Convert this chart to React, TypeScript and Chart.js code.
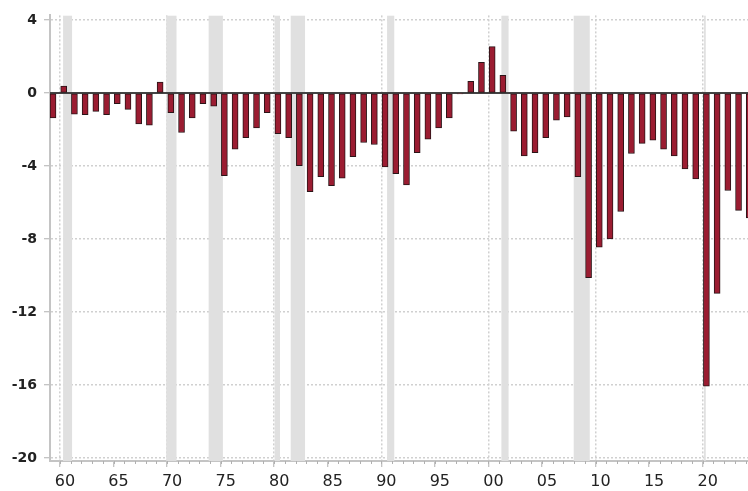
import React, { useEffect, useRef } from "react";
import { Chart, registerables } from "chart.js";

Chart.register(...registerables);

// Fiscal years shown as bars
const years: number[] = [
  1959, 1960, 1961, 1962, 1963, 1964, 1965, 1966, 1967, 1968, 1969,
  1970, 1971, 1972, 1973, 1974, 1975, 1976, 1977, 1978, 1979,
  1980, 1981, 1982, 1983, 1984, 1985, 1986, 1987, 1988, 1989,
  1990, 1991, 1992, 1993, 1994, 1995, 1996, 1997, 1998, 1999,
  2000, 2001, 2002, 2003, 2004, 2005, 2006, 2007, 2008, 2009,
  2010, 2011, 2012, 2013, 2014, 2015, 2016, 2017, 2018, 2019,
  2020, 2021, 2022, 2023, 2024,
];

// Surplus (+) / deficit (-) as % of GDP
const balance: number[] = [
  -1.36, 0.38, -1.15, -1.18, -1.0, -1.18, -0.58, -0.89, -1.69, -1.76, 0.6,
  -1.07, -2.16, -1.36, -0.58, -0.71, -4.53, -3.07, -2.45, -1.91, -1.07,
  -2.22, -2.45, -3.98, -5.4, -4.58, -5.07, -4.67, -3.49, -2.71, -2.82,
  -4.05, -4.42, -5.03, -3.26, -2.52, -1.91, -1.36, -0.05, 0.65, 1.69,
  2.55, 0.97, -2.09, -3.44, -3.26, -2.45, -1.49, -1.31, -4.58, -10.12,
  -8.44, -8.0, -6.49, -3.31, -2.76, -2.58, -3.07, -3.44, -4.16, -4.71,
  -16.07, -10.98, -5.34, -6.43, -6.85,
];

// Recession periods (decimal years)
const recessionStart: number[] = [1960.29, 1969.92, 1973.88, 1980.04, 1981.54, 1990.54, 2001.21, 2007.96, 2020.13];
const recessionEnd: number[] = [1961.13, 1970.88, 1975.21, 1980.54, 1982.88, 1991.21, 2001.88, 2009.46, 2020.29];

// Axis ticks
const xMajorTicks: number[] = [1960, 1965, 1970, 1975, 1980, 1985, 1990, 1995, 2000, 2005, 2010, 2015, 2020];
const yTicks: number[] = [-20, -16, -12, -8, -4, 0, 4];

const BAR_POS = 0.35; // bars sit within their year

const decorPlugin = {
  id: "decor",
  beforeDatasetsDraw(chart: any) {
    const { ctx, chartArea, scales } = chart;
    const x = scales.x;
    const y = scales.y;
    ctx.save();
    ctx.beginPath();
    ctx.rect(chartArea.left, chartArea.top, chartArea.right - chartArea.left, chartArea.bottom - chartArea.top);
    ctx.clip();
    ctx.fillStyle = "#e0e0e0";
    for (let i = 0; i < recessionStart.length; i++) {
      const x0 = x.getPixelForValue(recessionStart[i]);
      const x1 = x.getPixelForValue(recessionEnd[i]);
      ctx.fillRect(x0, chartArea.top, x1 - x0, chartArea.bottom - chartArea.top);
    }
    const y0 = y.getPixelForValue(0);
    ctx.strokeStyle = "#444";
    ctx.lineWidth = 2;
    ctx.beginPath();
    ctx.moveTo(chartArea.left, y0);
    ctx.lineTo(chartArea.right, y0);
    ctx.stroke();
    ctx.restore();
  },
  afterDraw(chart: any) {
    const { ctx, chartArea, scales } = chart;
    const x = scales.x;
    ctx.save();
    ctx.strokeStyle = "#b0b0b0";
    ctx.lineWidth = 1;
    for (const yr of years) {
      const px = x.getPixelForValue(yr);
      if (px < chartArea.left + 1 || px > chartArea.right) continue;
      const xx = Math.round(px) + 0.5;
      ctx.beginPath();
      ctx.moveTo(xx, chartArea.bottom);
      ctx.lineTo(xx, chartArea.bottom + 3);
      ctx.stroke();
    }
    ctx.restore();
  },
};

export default function App() {
  const canvasRef = useRef<HTMLCanvasElement | null>(null);

  useEffect(() => {
    const canvas = canvasRef.current;
    if (!canvas) return;
    const chart = new Chart(canvas, {
      type: "bar",
      data: {
        datasets: [
          {
            data: years.map((yr, i) => ({ x: yr + BAR_POS, y: balance[i] })),
            backgroundColor: "#9b1c31",
            borderColor: "#2a1518",
            borderWidth: 1,
            borderSkipped: false,
            barThickness: 6,
          },
        ],
      },
      options: {
        animation: false,
        responsive: false,
        devicePixelRatio: 1,
        layout: { padding: { top: 13, left: 0, right: 0, bottom: 0 } },
        plugins: { legend: { display: false }, tooltip: { enabled: false } },
        scales: {
          x: {
            type: "linear",
            min: 1959.07,
            max: 2026.1,
            offset: false,
            afterBuildTicks: (s: any) => {
              s.ticks = xMajorTicks.map((v) => ({ value: v }));
            },
            afterFit: (s: any) => {
              s.height = 30;
            },
            ticks: {
              autoSkip: false,
              maxRotation: 0,
              minRotation: 0,
              padding: 5,
              labelOffset: 5,
              color: "#222",
              font: { family: "DejaVu Sans", size: 16 },
              callback: (v: any) => String(Number(v) % 100).padStart(2, "0"),
            },
            grid: {
              offset: false,
              color: (c: any) => (c.tick && c.tick.value % 10 === 0 ? "#d0d0d0" : "rgba(0,0,0,0)"),
              lineWidth: 1.5,
              tickColor: "#b0b0b0",
              tickLength: 6,
              tickWidth: 1,
              tickBorderDash: [],
            },
            border: { color: "#c4c4c4", width: 2, dash: [2, 2] },
          },
          y: {
            type: "linear",
            min: -20.17,
            max: 4.26,
            afterBuildTicks: (s: any) => {
              s.ticks = yTicks.map((v) => ({ value: v }));
            },
            afterFit: (s: any) => {
              s.width = 50;
            },
            ticks: {
              padding: 7,
              color: "#222",
              font: { family: "DejaVu Sans", size: 14, weight: "bold" },
            },
            grid: {
              color: (c: any) => (c.tick && c.tick.value === 0 ? "rgba(0,0,0,0)" : "#d0d0d0"),
              lineWidth: 1.5,
              tickColor: "#b0b0b0",
              tickLength: 6,
              tickWidth: 1,
              tickBorderDash: [],
            },
            border: { color: "#c4c4c4", width: 2, dash: [2, 2] },
          },
        },
      },
      plugins: [decorPlugin],
    });
    return () => chart.destroy();
  }, []);

  return (
    <div
      style={{
        position: "absolute",
        left: 0,
        top: 0,
        width: 748,
        height: 491,
        overflow: "hidden",
        background: "#fff",
      }}
    >
      <canvas ref={canvasRef} width={768} height={491} style={{ display: "block" }} />
    </div>
  );
}
